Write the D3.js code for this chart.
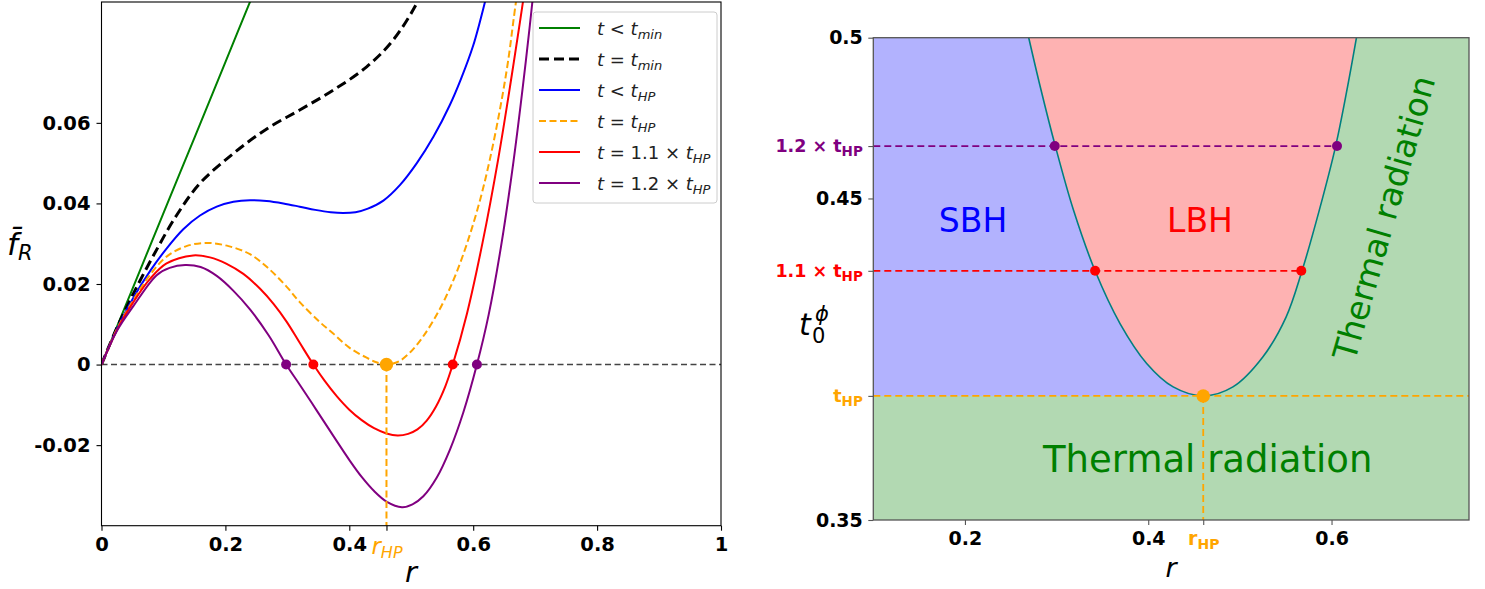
<!DOCTYPE html>
<html>
<head>
<meta charset="utf-8">
<script src="https://cdn.jsdelivr.net/npm/d3@7"></script>
<style>
body { margin: 0; background: #fff; }
svg { font-family: "DejaVu Sans", sans-serif; }
</style>
</head>
<body>
<div class="plot"></div>
<script>
// Hawking-Page point and temperature levels
const rHP = 0.46;
const tHP = 0.3886;
const tLevels = [tHP, 0.4275, 0.4663];          // t_HP, 1.1 t_HP, 1.2 t_HP

// Left panel: f_R(r) curves
const greenR = [0, 0.05, 0.1, 0.15, 0.2, 0.25];
const greenF = [0, 0.0188, 0.0376, 0.0563, 0.0751, 0.0939];

const blackR = [0, 0.025, 0.0514, 0.0836, 0.121, 0.159, 0.2128, 0.2667, 0.32, 0.374, 0.428, 0.471, 0.509, 0.53];
const blackF = [0, 0.0092, 0.0176, 0.0270, 0.0370, 0.0450, 0.0524, 0.0585, 0.0632, 0.0681, 0.0739, 0.0806, 0.0897, 0.097];

const blueR = [0, 0.025, 0.0514, 0.0783, 0.105, 0.132, 0.159, 0.186, 0.213, 0.2397, 0.2665, 0.2935, 0.32, 0.345, 0.37, 0.39, 0.41, 0.43, 0.455, 0.482, 0.509, 0.536, 0.5625, 0.58, 0.6, 0.619, 0.63];
const blueF = [0, 0.0089, 0.0166, 0.0232, 0.0288, 0.0336, 0.0370, 0.0392, 0.0404, 0.0408, 0.0406, 0.0400, 0.0392, 0.0384, 0.0378, 0.0376, 0.0378, 0.0387, 0.0407, 0.0446, 0.0500, 0.0566, 0.0645, 0.0708, 0.0792, 0.090, 0.097];

const orangeR = [0, 0.025, 0.0514, 0.078, 0.105, 0.137, 0.170, 0.205, 0.2397, 0.27, 0.299, 0.32, 0.3527, 0.374, 0.40, 0.428, 0.445, 0.461, 0.48, 0.498, 0.517, 0.536, 0.555, 0.573, 0.592, 0.611, 0.627, 0.643, 0.656, 0.669, 0.68];
const orangeF = [0, 0.0088, 0.0160, 0.0222, 0.0268, 0.0294, 0.0302, 0.0294, 0.0274, 0.0238, 0.0193, 0.0155, 0.0105, 0.0077, 0.0042, 0.0017, 0.0005, 0, 0.0008, 0.0030, 0.0065, 0.0110, 0.0165, 0.0228, 0.0310, 0.0408, 0.0510, 0.0632, 0.0750, 0.090, 0.101];

const redR = [0, 0.025, 0.0514, 0.078, 0.105, 0.148, 0.175, 0.202, 0.229, 0.256, 0.278, 0.299, 0.32, 0.342, 0.36, 0.38, 0.40, 0.42, 0.44, 0.46, 0.478, 0.495, 0.51, 0.525, 0.54, 0.555, 0.567, 0.59, 0.615, 0.64, 0.665, 0.69];
const redF = [0, 0.0086, 0.0155, 0.0212, 0.0251, 0.0271, 0.0266, 0.0250, 0.0225, 0.0188, 0.0150, 0.0106, 0.0054, 0, -0.0040, -0.0079, -0.0112, -0.0138, -0.0158, -0.0171, -0.0176, -0.0172, -0.0161, -0.0139, -0.0104, -0.0054, 0, 0.0127, 0.0302, 0.0507, 0.0745, 0.100];

const purpleR = [0, 0.025, 0.0514, 0.089, 0.11, 0.135, 0.16, 0.186, 0.213, 0.2397, 0.27, 0.298, 0.32, 0.347, 0.375, 0.401, 0.42, 0.44, 0.46, 0.485, 0.502, 0.5195, 0.541, 0.5625, 0.584, 0.606, 0.625, 0.645, 0.665, 0.685, 0.70];
const purpleF = [0, 0.0084, 0.0145, 0.0222, 0.0240, 0.0247, 0.0242, 0.0220, 0.0183, 0.0137, 0.0072, 0, -0.0050, -0.0113, -0.0179, -0.0239, -0.0279, -0.0314, -0.0340, -0.0354, -0.0347, -0.0327, -0.0281, -0.0211, -0.0119, 0, 0.0124, 0.0294, 0.0504, 0.0754, 0.0964];

const rootsRed = [0.342, 0.567];
const rootsPurple = [0.298, 0.606];

// Right panel: coexistence boundary (r, t0)
const boundR = [0.2696, 0.2823, 0.2986, 0.3185, 0.342, 0.3692, 0.3983, 0.4272, 0.46, 0.4924, 0.525, 0.5504, 0.5678, 0.5866, 0.6045, 0.6174, 0.6272];
const boundT = [0.5, 0.4846, 0.4663, 0.4463, 0.4275, 0.4111, 0.3987, 0.3914, 0.3886, 0.3914, 0.4007, 0.4131, 0.4275, 0.4463, 0.4663, 0.4846, 0.5];

// Tick labels
const leftXTicks = [0, 0.2, 0.4, rHP, 0.6, 0.8, 1];
const leftXLabels = ["0", "0.2", "0.4", "r_HP", "0.6", "0.8", "1"];
const leftYTicks = [-0.02, 0, 0.02, 0.04, 0.06];
const leftYLabels = ["-0.02", "0", "0.02", "0.04", "0.06"];
const rightXTicks = [0.2, 0.4, rHP, 0.6];
const rightXLabels = ["0.2", "0.4", "r_HP", "0.6"];
const rightYTicks = [0.35, tLevels[0], tLevels[1], 0.45, tLevels[2], 0.5];
const rightYLabels = ["0.35", "t_HP", "1.1 × t_HP", "0.45", "1.2 × t_HP", "0.5"];
const rightYColors = ["black", "orange", "red", "black", "purple", "black"];

const legendLabels = [
    [["t", "i"], [" < ", "n"], ["t", "i"], ["min", "s"]],
    [["t", "i"], [" = ", "n"], ["t", "i"], ["min", "s"]],
    [["t", "i"], [" < ", "n"], ["t", "i"], ["HP", "s"]],
    [["t", "i"], [" = ", "n"], ["t", "i"], ["HP", "s"]],
    [["t", "i"], [" = 1.1 × ", "n"], ["t", "i"], ["HP", "s"]],
    [["t", "i"], [" = 1.2 × ", "n"], ["t", "i"], ["HP", "s"]]
];

const series = [
    {r: greenR, f: greenF, color: "green", width: 2, dash: null},
    {r: blackR, f: blackF, color: "black", width: 3, dash: "10,5"},
    {r: blueR, f: blueF, color: "blue", width: 2, dash: null},
    {r: orangeR, f: orangeF, color: "orange", width: 2, dash: "7,3.5"},
    {r: redR, f: redF, color: "red", width: 2, dash: null},
    {r: purpleR, f: purpleF, color: "purple", width: 2, dash: null}
];

const svg = d3.select(".plot")
    .append("svg")
        .attr("width", 1485)
        .attr("height", 589);

// panel boxes in pixels
const L = {left: 101.5, right: 721, top: 2, bottom: 525.7};
const R = {left: 873.3, right: 1469, top: 37.7, bottom: 520};

const xL = d3.scaleLinear().domain([0, 1]).range([L.left, L.right]);
const yL = d3.scaleLinear().domain([-0.04, 0.09]).range([L.bottom, L.top]);
const xR = d3.scaleLinear().domain([0.1, 0.75]).range([R.left, R.right]);
const yR = d3.scaleLinear().domain([0.35, 0.5]).range([R.bottom, R.top]);

const defs = svg.append("defs");
defs.append("clipPath").attr("id", "clipL").append("rect")
    .attr("x", L.left).attr("y", L.top).attr("width", L.right - L.left).attr("height", L.bottom - L.top);
defs.append("clipPath").attr("id", "clipR").append("rect")
    .attr("x", R.left).attr("y", R.top).attr("width", R.right - R.left).attr("height", R.bottom - R.top);

// label with optional "_sub" part
function setLabel(text, label, subSize, subDy) {
    const [main, sub] = label.split("_");
    text.text(null);
    text.append("tspan").text(main);
    if (sub) text.append("tspan").attr("dy", subDy).attr("font-size", subSize).text(sub);
}

// ================= LEFT PANEL =================
const gl = svg.append("g").attr("clip-path", "url(#clipL)");

// zero line
gl.append("line")
    .attr("x1", xL(0)).attr("x2", xL(1))
    .attr("y1", yL(0)).attr("y2", yL(0))
    .attr("stroke", "#444").attr("stroke-width", 1.6).attr("stroke-dasharray", "6,3.5");

const lineL = d3.line()
    .x(d => xL(d[0]))
    .y(d => yL(d[1]))
    .curve(d3.curveCatmullRom.alpha(0.5));

gl.selectAll("path.curve")
    .data(series)
    .enter()
    .append("path")
        .attr("class", "curve")
        .attr("d", s => lineL(s.r.map((r, i) => [r, s.f[i]])))
        .attr("fill", "none")
        .attr("stroke", s => s.color)
        .attr("stroke-width", s => s.width)
        .attr("stroke-dasharray", s => s.dash);

// r_HP vertical
gl.append("line")
    .attr("x1", xL(rHP)).attr("x2", xL(rHP))
    .attr("y1", yL(0)).attr("y2", L.bottom)
    .attr("stroke", "orange").attr("stroke-width", 2).attr("stroke-dasharray", "7,3.5");

// roots
const dotsL = rootsPurple.map(r => [r, "purple", 5])
    .concat(rootsRed.map(r => [r, "red", 5]))
    .concat([[rHP, "orange", 6.7]]);
gl.selectAll("circle")
    .data(dotsL)
    .enter()
    .append("circle")
        .attr("cx", d => xL(d[0]))
        .attr("cy", yL(0))
        .attr("r", d => d[2])
        .attr("fill", d => d[1]);

// frame
svg.append("rect")
    .attr("x", L.left).attr("y", L.top)
    .attr("width", L.right - L.left).attr("height", L.bottom - L.top)
    .attr("fill", "none").attr("stroke", "black").attr("stroke-width", 1.1);

// axes
const axLX = svg.append("g")
    .attr("transform", "translate(0," + L.bottom + ")")
    .call(d3.axisBottom(xL).tickValues(leftXTicks).tickSize(5).tickPadding(6.5).tickFormat((d, i) => leftXLabels[i]));
const axLY = svg.append("g")
    .attr("transform", "translate(" + L.left + ",0)")
    .call(d3.axisLeft(yL).tickValues(leftYTicks).tickSize(5).tickPadding(6).tickFormat((d, i) => leftYLabels[i]));
[axLX, axLY].forEach(ax => {
    ax.attr("font-size", null).attr("font-family", null);
    ax.select(".domain").remove();
    ax.selectAll(".tick line").attr("stroke", "black").attr("stroke-width", 1.1);
    ax.selectAll(".tick text").attr("font-size", 19.5).attr("font-weight", "bold").attr("fill", "black");
});
axLX.selectAll(".tick text").each(function(d, i) {
    if (leftXLabels[i].includes("_")) {
        const t = d3.select(this)
            .attr("font-weight", "normal").attr("font-style", "italic")
            .attr("font-size", 23).attr("fill", "orange");
        setLabel(t, leftXLabels[i], 16, 4);
    }
});

// axis titles
const fl = svg.append("text")
    .attr("x", 7).attr("y", 255)
    .attr("font-style", "italic").attr("font-size", 31);
fl.append("tspan").text("f\u0304");
fl.append("tspan").attr("dy", 5).attr("font-size", 21).text("R");

svg.append("text")
    .attr("x", 411).attr("y", 582)
    .attr("text-anchor", "middle")
    .attr("font-style", "italic").attr("font-size", 29)
    .text("r");

// legend
const lg = svg.append("g").attr("transform", "translate(533,12)");
lg.append("rect")
    .attr("width", 184).attr("height", 191).attr("rx", 3)
    .attr("fill", "white").attr("fill-opacity", 0.8)
    .attr("stroke", "#cccccc").attr("stroke-width", 1);
series.forEach((s, i) => {
    const y = 16 + i * 31;
    lg.append("line")
        .attr("x1", 6).attr("x2", 47).attr("y1", y).attr("y2", y)
        .attr("stroke", s.color).attr("stroke-width", s.width)
        .attr("stroke-dasharray", s.dash);
    const t = lg.append("text").attr("x", 64).attr("y", y + 6.5).attr("font-size", 18).attr("fill", "#222");
    legendLabels[i].forEach(p => {
        const ts = t.append("tspan").text(p[0]);
        if (p[1] !== "n") ts.attr("font-style", "italic");
        if (p[1] === "s") ts.attr("dy", 4).attr("font-size", 13);
    });
});

// ================= RIGHT PANEL =================
const gr = svg.append("g").attr("clip-path", "url(#clipR)");

// thermal radiation background, SBH block, LBH inside boundary
gr.append("rect")
    .attr("x", R.left).attr("y", R.top)
    .attr("width", R.right - R.left).attr("height", R.bottom - R.top)
    .attr("fill", "rgb(178,217,178)");
gr.append("rect")
    .attr("x", xR(0.1)).attr("y", yR(0.5))
    .attr("width", xR(rHP) - xR(0.1)).attr("height", yR(tHP) - yR(0.5))
    .attr("fill", "rgb(178,178,254)");

const bound = boundR.map((r, i) => [r, boundT[i]]);
const lineR = d3.line()
    .x(d => xR(d[0]))
    .y(d => yR(d[1]))
    .curve(d3.curveCatmullRom.alpha(0.5));

gr.append("path")
    .attr("d", lineR(bound) + "Z")
    .attr("fill", "rgb(254,178,178)");
gr.append("path")
    .attr("d", lineR(bound))
    .attr("fill", "none")
    .attr("stroke", "teal").attr("stroke-width", 1.6);

// level lines
const levelLines = [
    [tLevels[2], rootsPurple[1], "purple"],
    [tLevels[1], rootsRed[1], "red"],
    [tLevels[0], 0.75, "orange"]
];
gr.selectAll("line.level")
    .data(levelLines)
    .enter()
    .append("line")
        .attr("class", "level")
        .attr("x1", xR(0.1)).attr("x2", d => xR(d[1]))
        .attr("y1", d => yR(d[0])).attr("y2", d => yR(d[0]))
        .attr("stroke", d => d[2]).attr("stroke-width", 1.8).attr("stroke-dasharray", "7,4");
gr.append("line")
    .attr("x1", xR(rHP)).attr("x2", xR(rHP))
    .attr("y1", yR(tHP)).attr("y2", R.bottom)
    .attr("stroke", "orange").attr("stroke-width", 1.8).attr("stroke-dasharray", "7,4");

const dotsR = rootsPurple.map(r => [r, tLevels[2], "purple", 5])
    .concat(rootsRed.map(r => [r, tLevels[1], "red", 5]))
    .concat([[rHP, tHP, "orange", 6.7]]);
gr.selectAll("circle")
    .data(dotsR)
    .enter()
    .append("circle")
        .attr("cx", d => xR(d[0]))
        .attr("cy", d => yR(d[1]))
        .attr("r", d => d[3])
        .attr("fill", d => d[2]);

// phase names
gr.append("text").attr("x", 973).attr("y", 232).attr("text-anchor", "middle")
    .attr("font-size", 33).attr("fill", "blue").text("SBH");
gr.append("text").attr("x", 1200).attr("y", 232).attr("text-anchor", "middle")
    .attr("font-size", 33).attr("fill", "red").text("LBH");
gr.append("text").attr("x", 1043).attr("y", 472)
    .attr("font-size", 37).attr("fill", "green").text("Thermal radiation");
gr.append("text")
    .attr("transform", "translate(1384,218) rotate(-74)")
    .attr("text-anchor", "middle").attr("dy", "0.35em")
    .attr("font-size", 33).attr("fill", "green").text("Thermal radiation");

// frame
svg.append("rect")
    .attr("x", R.left).attr("y", R.top)
    .attr("width", R.right - R.left).attr("height", R.bottom - R.top)
    .attr("fill", "none").attr("stroke", "#555").attr("stroke-width", 1.3);

const axRX = svg.append("g")
    .attr("transform", "translate(0," + R.bottom + ")")
    .call(d3.axisBottom(xR).tickValues(rightXTicks).tickSize(5).tickPadding(7).tickFormat((d, i) => rightXLabels[i]));
const axRY = svg.append("g")
    .attr("transform", "translate(" + R.left + ",0)")
    .call(d3.axisLeft(yR).tickValues(rightYTicks).tickSize(5).tickPadding(5.5).tickFormat((d, i) => rightYLabels[i]));
[axRX, axRY].forEach(ax => {
    ax.attr("font-size", null).attr("font-family", null);
    ax.select(".domain").remove();
    ax.selectAll(".tick line").attr("stroke", "#555").attr("stroke-width", 1.1);
    ax.selectAll(".tick text").attr("font-size", 19).attr("font-weight", "bold").attr("fill", "black");
});
axRX.selectAll(".tick text").each(function(d, i) {
    if (rightXLabels[i].includes("_")) {
        const t = d3.select(this).attr("fill", "orange");
        setLabel(t, rightXLabels[i], 14, 4);
    }
});
axRY.selectAll(".tick text").each(function(d, i) {
    const t = d3.select(this).attr("fill", rightYColors[i]);
    if (rightYLabels[i].includes("_")) {
        t.attr("font-size", 17.5);
        setLabel(t, rightYLabels[i], 13.5, 4);
    }
});

// axis titles
const tl = svg.append("text")
    .attr("x", 799).attr("y", 335)
    .attr("font-style", "italic").attr("font-size", 30);
tl.append("tspan").text("t");
tl.append("tspan").attr("x", 812).attr("dy", 8).attr("font-size", 21).attr("font-style", "normal").text("0");
tl.append("tspan").attr("x", 815).attr("dy", -22).attr("font-size", 21).text("ϕ");

svg.append("text")
    .attr("x", 1171).attr("y", 577)
    .attr("text-anchor", "middle")
    .attr("font-style", "italic").attr("font-size", 27)
    .text("r");
</script>
</body>
</html>
